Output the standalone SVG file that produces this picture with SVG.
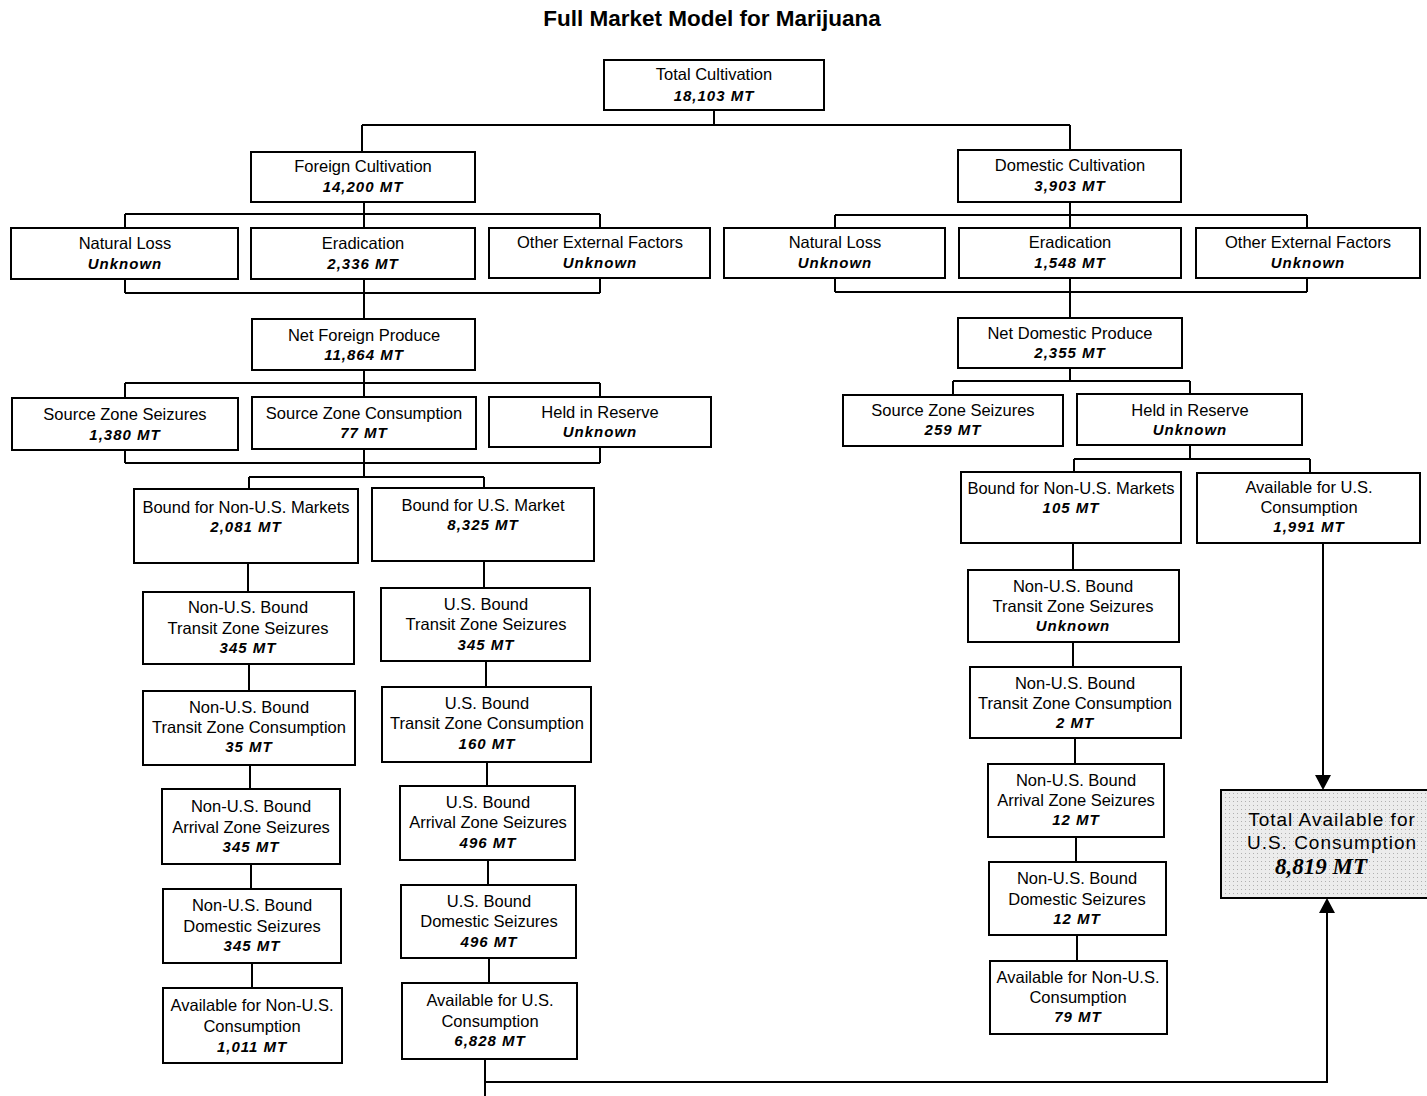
<svg xmlns="http://www.w3.org/2000/svg" width="1427" height="1096" viewBox="0 0 1427 1096">
<style>
.b{fill:#fff;stroke:#000;stroke-width:2}
.t{font-family:'Liberation Sans',Arial,sans-serif;font-size:16.5px;text-anchor:middle;fill:#000}
.v{font-size:15px;font-weight:bold;font-style:italic;letter-spacing:1px}
.c{fill:none;stroke:#000;stroke-width:2}
.ttl{font-family:'Liberation Sans',Arial,sans-serif;font-size:22.5px;font-weight:bold;text-anchor:middle}
.tu{font-family:'Liberation Sans',Arial,sans-serif;font-size:19px;letter-spacing:1px;text-anchor:middle}
</style>
<defs>
<pattern id="dots" width="4" height="4" patternUnits="userSpaceOnUse">
<rect width="4" height="4" fill="#ececec"/>
<rect x="1" y="1" width="1" height="1" fill="#b0b0b0"/>
</pattern>
</defs>
<rect width="1427" height="1096" fill="#fff"/>
<text class="ttl" x="712" y="26">Full Market Model for Marijuana</text>

<g id="connectors">
<path class="c" d="M714,110V125M362,125H1070M362,125V152M1070,125V150"/>
<path class="c" d="M364,202V214M125,214H600M125,214V228M364,214V228M600,214V228"/>
<path class="c" d="M125,279V293M600,278V293M125,293H600M364,279V319"/>
<path class="c" d="M364,370V383M125,383H600M125,383V398M364,383V397M600,383V397"/>
<path class="c" d="M125,450V463M600,447V463M125,463H600M364,449V477M249,477H484M249,477V489M484,477V488"/>
<path class="c" d="M248,563V592M249,664V691M250,765V789M251,864V889M252,963V988"/>
<path class="c" d="M484,561V588M486,661V687M487,762V786M488,860V885M489,958V983M485,1059V1096M485,1082H1327V913"/>
<path class="c" d="M1070,202V215M835,215H1307M835,215V228M1070,215V228M1307,215V228"/>
<path class="c" d="M835,278V292M1307,278V292M835,292H1307M1070,278V318"/>
<path class="c" d="M1070,368V381M953,381H1190M953,381V395M1190,381V394"/>
<path class="c" d="M1190,445V459M1074,459H1310M1074,459V472M1310,459V473"/>
<path class="c" d="M1073,543V570M1073,642V667M1075,738V764M1076,837V862M1077,935V961"/>
<path class="c" d="M1323,543V776"/>
<path d="M1315,775L1331,775L1323,790z" fill="#000"/>
<path d="M1319,913L1335,913L1327,898z" fill="#000"/>
</g>

<g id="n-total"><rect class="b" x="604" y="60" width="220" height="50"/><text class="t" x="714" y="80">Total Cultivation</text><text class="t v" x="714" y="101">18,103 MT</text></g>
<g id="n-foreign"><rect class="b" x="251" y="152" width="224" height="50"/><text class="t" x="363" y="172">Foreign Cultivation</text><text class="t v" x="363" y="192">14,200 MT</text></g>
<g id="n-domestic"><rect class="b" x="958" y="150" width="223" height="52"/><text class="t" x="1070" y="171">Domestic Cultivation</text><text class="t v" x="1070" y="191">3,903 MT</text></g>

<g id="n-fnatloss"><rect class="b" x="11" y="228" width="227" height="51"/><text class="t" x="125" y="249">Natural Loss</text><text class="t v" x="125" y="269">Unknown</text></g>
<g id="n-ferad"><rect class="b" x="251" y="228" width="224" height="51"/><text class="t" x="363" y="249">Eradication</text><text class="t v" x="363" y="269">2,336 MT</text></g>
<g id="n-fother"><rect class="b" x="489" y="228" width="221" height="50"/><text class="t" x="600" y="248">Other External Factors</text><text class="t v" x="600" y="268">Unknown</text></g>
<g id="n-dnatloss"><rect class="b" x="724" y="228" width="221" height="50"/><text class="t" x="835" y="248">Natural Loss</text><text class="t v" x="835" y="268">Unknown</text></g>
<g id="n-derad"><rect class="b" x="959" y="228" width="222" height="50"/><text class="t" x="1070" y="248">Eradication</text><text class="t v" x="1070" y="268">1,548 MT</text></g>
<g id="n-dother"><rect class="b" x="1196" y="228" width="224" height="50"/><text class="t" x="1308" y="248">Other External Factors</text><text class="t v" x="1308" y="268">Unknown</text></g>

<g id="n-netforeign"><rect class="b" x="252" y="319" width="223" height="51"/><text class="t" x="364" y="341">Net Foreign Produce</text><text class="t v" x="364" y="360">11,864 MT</text></g>
<g id="n-netdomestic"><rect class="b" x="958" y="318" width="224" height="50"/><text class="t" x="1070" y="339">Net Domestic Produce</text><text class="t v" x="1070" y="358">2,355 MT</text></g>

<g id="n-fszs"><rect class="b" x="12" y="398" width="226" height="52"/><text class="t" x="125" y="420">Source Zone Seizures</text><text class="t v" x="125" y="440">1,380 MT</text></g>
<g id="n-fszc"><rect class="b" x="252" y="397" width="224" height="52"/><text class="t" x="364" y="419">Source Zone Consumption</text><text class="t v" x="364" y="438">77 MT</text></g>
<g id="n-fheld"><rect class="b" x="489" y="397" width="222" height="50"/><text class="t" x="600" y="418">Held in Reserve</text><text class="t v" x="600" y="437">Unknown</text></g>
<g id="n-dszs"><rect class="b" x="843" y="395" width="220" height="51"/><text class="t" x="953" y="416">Source Zone Seizures</text><text class="t v" x="953" y="435">259 MT</text></g>
<g id="n-dheld"><rect class="b" x="1077" y="394" width="225" height="51"/><text class="t" x="1190" y="416">Held in Reserve</text><text class="t v" x="1190" y="435">Unknown</text></g>

<g id="n-fboundnonus"><rect class="b" x="134" y="489" width="224" height="74"/><text class="t" x="246" y="513">Bound for Non-U.S. Markets</text><text class="t v" x="246" y="532">2,081 MT</text></g>
<g id="n-fboundus"><rect class="b" x="372" y="488" width="222" height="73"/><text class="t" x="483" y="511">Bound for U.S. Market</text><text class="t v" x="483" y="530">8,325 MT</text></g>
<g id="n-dboundnonus"><rect class="b" x="961" y="472" width="220" height="71"/><text class="t" x="1071" y="494">Bound for Non-U.S. Markets</text><text class="t v" x="1071" y="513">105 MT</text></g>
<g id="n-davailus"><rect class="b" x="1197" y="473" width="223" height="70"/><text class="t" x="1309" y="493">Available for U.S.</text><text class="t" x="1309" y="513">Consumption</text><text class="t v" x="1309" y="532">1,991 MT</text></g>

<g id="n-l1"><rect class="b" x="143" y="592" width="211" height="72"/><text class="t" x="248" y="613">Non-U.S. Bound</text><text class="t" x="248" y="634">Transit Zone Seizures</text><text class="t v" x="248" y="653">345 MT</text></g>
<g id="n-l2"><rect class="b" x="143" y="691" width="212" height="74"/><text class="t" x="249" y="713">Non-U.S. Bound</text><text class="t" x="249" y="733">Transit Zone Consumption</text><text class="t v" x="249" y="752">35 MT</text></g>
<g id="n-l3"><rect class="b" x="162" y="789" width="178" height="75"/><text class="t" x="251" y="812">Non-U.S. Bound</text><text class="t" x="251" y="833">Arrival Zone Seizures</text><text class="t v" x="251" y="852">345 MT</text></g>
<g id="n-l4"><rect class="b" x="163" y="889" width="178" height="74"/><text class="t" x="252" y="911">Non-U.S. Bound</text><text class="t" x="252" y="932">Domestic Seizures</text><text class="t v" x="252" y="951">345 MT</text></g>
<g id="n-l5"><rect class="b" x="163" y="988" width="179" height="75"/><text class="t" x="252" y="1011">Available for Non-U.S.</text><text class="t" x="252" y="1032">Consumption</text><text class="t v" x="252" y="1052">1,011 MT</text></g>

<g id="n-u1"><rect class="b" x="381" y="588" width="209" height="73"/><text class="t" x="486" y="610">U.S. Bound</text><text class="t" x="486" y="630">Transit Zone Seizures</text><text class="t v" x="486" y="650">345 MT</text></g>
<g id="n-u2"><rect class="b" x="382" y="687" width="209" height="75"/><text class="t" x="487" y="709">U.S. Bound</text><text class="t" x="487" y="729">Transit Zone Consumption</text><text class="t v" x="487" y="749">160 MT</text></g>
<g id="n-u3"><rect class="b" x="400" y="786" width="175" height="74"/><text class="t" x="488" y="808">U.S. Bound</text><text class="t" x="488" y="828">Arrival Zone Seizures</text><text class="t v" x="488" y="848">496 MT</text></g>
<g id="n-u4"><rect class="b" x="401" y="885" width="175" height="73"/><text class="t" x="489" y="907">U.S. Bound</text><text class="t" x="489" y="927">Domestic Seizures</text><text class="t v" x="489" y="947">496 MT</text></g>
<g id="n-u5"><rect class="b" x="402" y="983" width="175" height="76"/><text class="t" x="490" y="1006">Available for U.S.</text><text class="t" x="490" y="1027">Consumption</text><text class="t v" x="490" y="1046">6,828 MT</text></g>

<g id="n-d1"><rect class="b" x="968" y="570" width="211" height="72"/><text class="t" x="1073" y="592">Non-U.S. Bound</text><text class="t" x="1073" y="612">Transit Zone Seizures</text><text class="t v" x="1073" y="631">Unknown</text></g>
<g id="n-d2"><rect class="b" x="970" y="667" width="211" height="71"/><text class="t" x="1075" y="689">Non-U.S. Bound</text><text class="t" x="1075" y="709">Transit Zone Consumption</text><text class="t v" x="1075" y="728">2 MT</text></g>
<g id="n-d3"><rect class="b" x="988" y="764" width="176" height="73"/><text class="t" x="1076" y="786">Non-U.S. Bound</text><text class="t" x="1076" y="806">Arrival Zone Seizures</text><text class="t v" x="1076" y="825">12 MT</text></g>
<g id="n-d4"><rect class="b" x="989" y="862" width="177" height="73"/><text class="t" x="1077" y="884">Non-U.S. Bound</text><text class="t" x="1077" y="905">Domestic Seizures</text><text class="t v" x="1077" y="924">12 MT</text></g>
<g id="n-d5"><rect class="b" x="990" y="961" width="177" height="73"/><text class="t" x="1078" y="983">Available for Non-U.S.</text><text class="t" x="1078" y="1003">Consumption</text><text class="t v" x="1078" y="1022">79 MT</text></g>

<g id="n-total-us"><rect x="1221" y="790" width="220" height="108" fill="url(#dots)" stroke="#000" stroke-width="2"/>
<text class="tu" x="1332" y="826">Total Available for</text>
<text class="tu" x="1332" y="849">U.S. Consumption</text>
<text x="1321" y="874" font-family="'Liberation Serif','Times New Roman',serif" font-size="23" font-weight="bold" font-style="italic" text-anchor="middle">8,819 MT</text>
</g>
</svg>
